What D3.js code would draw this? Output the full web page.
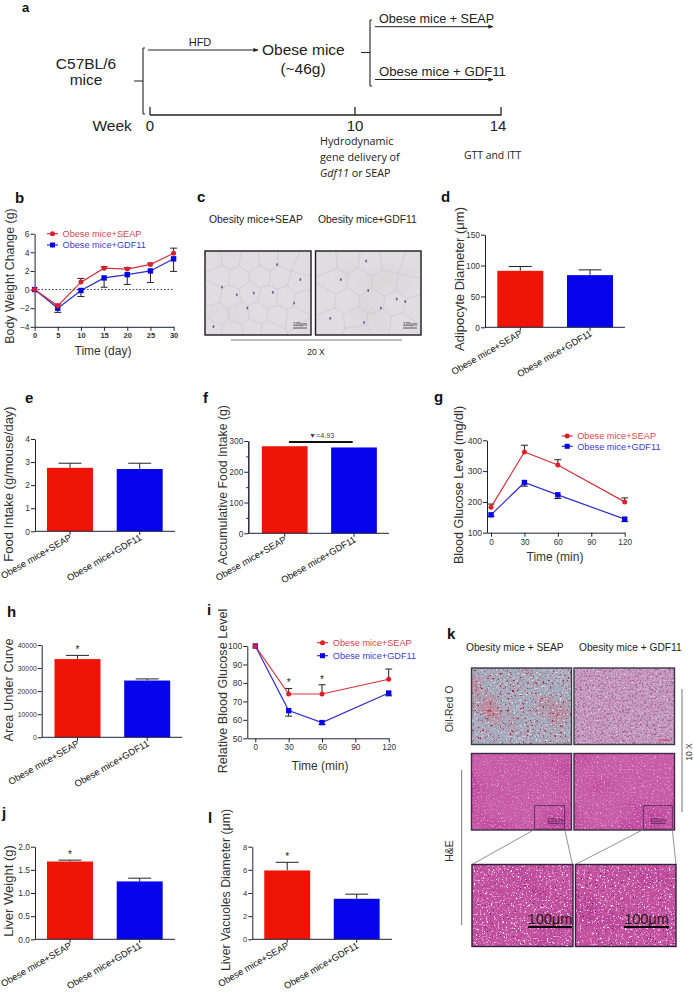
<!DOCTYPE html>
<html>
<head>
<meta charset="utf-8">
<script src="https://cdn.jsdelivr.net/npm/d3@7"></script>
<style>
  html, body { margin: 0; background: #fff; }
  svg { display: block; }
  text { font-family: "Liberation Sans", Arial, sans-serif; }
</style>
</head>
<body>
<div id="chart"></div>
<script>
// Chart values
const groups = ["Obese mice+SEAP", "Obese mice+GDF11"];

const weightDays = [0, 5, 10, 15, 20, 25, 30];
const weightSeap = [0, -1.75, 0.8, 2.3, 2.2, 2.7, 3.9];
const weightSeapErr = [0, 0.2, 0.4, 0.15, 0.15, 0.15, 0.55];
const weightGdf = [0, -2, -0.1, 1.25, 1.6, 2, 3.3];
const weightGdfErr = [0, 0.45, 0.65, 1, 1.05, 1.25, 1.35];

const adipocyte = [91.5, 84.5];
const adipocyteErr = [7, 8.5];
const foodIntake = [2.75, 2.7];
const foodIntakeErr = [0.2, 0.25];
const accumIntake = [283, 279];
const auc = [33900, 24600];
const aucErr = [1600, 700];
const liverWeight = [1.68, 1.25];
const liverWeightErr = [0.03, 0.07];
const vacuoles = [5.95, 3.5];
const vacuolesErr = [0.7, 0.4];

const gttTimes = [0, 30, 60, 120];
const gttSeap = [183, 362, 320, 200];
const gttSeapErr = [10, 22, 17, 13];
const gttGdf = [158, 263, 223, 144];
const gttGdfErr = [5, 12, 12, 8];

const ittSeap = [100, 74, 74, 82];
const ittSeapErr = [0, 3, 5, 5.5];
const ittGdf = [100, 65, 58.5, 74.5];
const ittGdfErr = [0, 3, 1, 1.5];

// Adipocyte centres in the two micrographs, as fractions of each photo
const fatCellsLeft = [[.07,.1],[.24,.08],[.42,.12],[.6,.1],[.78,.08],[.93,.16],[.14,.3],[.32,.32],[.52,.3],[.7,.32],[.88,.38],[.06,.5],[.24,.55],[.42,.5],[.6,.55],[.76,.55],[.93,.6],[.12,.76],[.32,.75],[.5,.74],[.68,.78],[.86,.8],[.06,.93],[.26,.94],[.44,.93],[.62,.95],[.94,.95]];
const fatCellsRight = [[.1,.12],[.3,.1],[.52,.14],[.72,.1],[.92,.18],[.18,.36],[.42,.36],[.66,.38],[.88,.42],[.08,.58],[.3,.6],[.54,.6],[.76,.62],[.94,.68],[.16,.84],[.38,.82],[.6,.84],[.82,.88],[.4,.98]];
const nucleiLeft = [[.16,.43],[.46,.5],[.64,.49],[.68,.16],[.9,.34],[.3,.52],[.08,.9],[.4,.68],[.84,.62]];
const nucleiRight = [[.48,.12],[.24,.34],[.5,.47],[.77,.57],[.85,.6],[.14,.8],[.46,.85],[.62,.68]];

const width = 694;
const height = 992;
const red = "#ee1508";
const blue = "#0504ea";
const lineRed = "#d8303c";
const lineBlue = "#2c2cc8";
const ink = "#222";

const svg = d3.select("#chart").append("svg")
  .attr("width", width)
  .attr("height", height)
  .attr("viewBox", `0 0 ${width} ${height}`);
const defs = svg.append("defs");

function label(txt, x, y, size, opts = {}) {
  const t = svg.append("text")
    .attr("x", x).attr("y", y)
    .attr("font-size", size)
    .attr("fill", opts.fill || ink)
    .attr("font-weight", opts.weight || null)
    .attr("text-anchor", opts.anchor || "start")
    .text(txt);
  if (opts.family) t.style("font-family", opts.family);
  if (opts.rotate != null) t.attr("transform", `rotate(${opts.rotate} ${x} ${y})`);
  return t;
}

function line(x1, y1, x2, y2, color = ink, w = 1) {
  return svg.append("line")
    .attr("x1", x1).attr("y1", y1).attr("x2", x2).attr("y2", y2)
    .attr("stroke", color).attr("stroke-width", w);
}

const yLabel = (txt, x, y, size = 12.6) => label(txt, x, y, size, { rotate: -90, anchor: "middle", fill: "#333" });

// Axis styling shared by every plot
function styleAxis(g, size = 8.4, weight = null) {
  g.selectAll("path,line").attr("stroke", "#1c2236").attr("stroke-width", 1);
  g.selectAll("text")
    .attr("font-size", size)
    .attr("font-weight", weight)
    .attr("fill", "#333")
    .style("font-family", '"Liberation Sans", Arial, sans-serif');
  return g;
}

// ---- bar panels
function barPanel({ values, errors, yMax, yTicks, yFormat, x0, x1, yTop, yBottom, bars, minor, stars, tickSize = 8.4 }) {
  const y = d3.scaleLinear().domain([0, yMax]).range([yBottom, yTop]);
  const barW = (bars[1] - bars[0]) * 0.66;

  styleAxis(svg.append("g")
    .attr("transform", `translate(${x0},0)`)
    .call(d3.axisLeft(y).tickValues(yTicks).tickFormat(yFormat || d3.format("d")).tickSize(4).tickSizeOuter(0).tickPadding(1)), tickSize);
  if (minor) {
    styleAxis(svg.append("g")
      .attr("transform", `translate(${x0},0)`)
      .call(d3.axisLeft(y).tickValues(minor).tickFormat("").tickSize(2).tickSizeOuter(0)));
  }

  const xAxis = d3.scaleOrdinal().domain(groups).range(bars);
  values.forEach((v, i) => {
    const cx = bars[i];
    if (errors) {
      const top = y(v + errors[i]);
      line(cx, y(v), cx, top, ink, 1);
      line(cx - 11.5, top, cx + 11.5, top, ink, 1);
    }
    svg.append("rect")
      .attr("x", cx - barW / 2).attr("width", barW)
      .attr("y", y(v)).attr("height", yBottom - y(v))
      .attr("fill", i ? blue : red);
    if (stars && stars[i]) {
      label("*", cx, y(v + errors[i]) - 2, 10, { anchor: "middle" });
    }
  });
  // x axis drawn last so it sits on top of the bars
  line(x0, yBottom, x1, yBottom, "#1c2236", 1);
  groups.forEach((g, i) => {
    const cx = xAxis(g);
    line(cx, yBottom, cx, yBottom + 3.5, "#1c2236", 1);
    label(g, cx + 2.5, yBottom + 8, 9.3, { anchor: "end", rotate: -30, fill: "#111" });
  });
}

// ---- line panels
function linePanel({ xVals, seap, seapErr, gdf, gdfErr, xDomain, xRange, yDomain, yRange, xTicks, yTicks, errDirGdf, zeroLine, legend, errColor = "#222", stars, sizes = [8.6, 8.2], xWeight = null }) {
  const x = d3.scaleLinear().domain(xDomain).range(xRange);
  const y = d3.scaleLinear().domain(yDomain).range(yRange);
  const path = d3.line().x((d, i) => x(xVals[i])).y(d => y(d));

  styleAxis(svg.append("g")
    .attr("transform", `translate(${xRange[0]},0)`)
    .call(d3.axisLeft(y).tickValues(yTicks).tickSize(4).tickSizeOuter(0).tickPadding(1)), sizes[0]);
  styleAxis(svg.append("g")
    .attr("transform", `translate(0,${yRange[0]})`)
    .call(d3.axisBottom(x).tickValues(xTicks).tickSize(4).tickSizeOuter(0).tickPadding(2)), sizes[1], xWeight);

  if (zeroLine) {
    svg.append("line")
      .attr("x1", x(xDomain[0])).attr("x2", x(xDomain[1]))
      .attr("y1", y(0)).attr("y2", y(0))
      .attr("stroke", "#333").attr("stroke-dasharray", "1.5 2");
  }

  const errorBars = (vals, errs, dir) => vals.forEach((v, i) => {
    if (!errs[i]) return;
    const end = y(v + dir * errs[i]);
    line(x(xVals[i]), y(v), x(xVals[i]), end, errColor, 1);
    line(x(xVals[i]) - 3.5, end, x(xVals[i]) + 3.5, end, errColor, 1);
  });
  errorBars(gdf, gdfErr, errDirGdf);
  errorBars(seap, seapErr, 1);

  svg.append("path").attr("d", path(gdf)).attr("fill", "none").attr("stroke", lineBlue).attr("stroke-width", 1.2);
  svg.append("path").attr("d", path(seap)).attr("fill", "none").attr("stroke", lineRed).attr("stroke-width", 1.2);

  svg.append("g").selectAll("rect").data(gdf).join("rect")
    .attr("x", (d, i) => x(xVals[i]) - 2.7).attr("y", d => y(d) - 2.7)
    .attr("width", 5.4).attr("height", 5.4).attr("fill", blue);
  svg.append("g").selectAll("circle").data(seap).join("circle")
    .attr("cx", (d, i) => x(xVals[i])).attr("cy", d => y(d)).attr("r", 2.5).attr("fill", "#e01e28");

  if (stars) {
    stars.forEach(i => label("*", x(xVals[i]), y(seap[i] + seapErr[i]) - 2, 10, { anchor: "middle" }));
  }

  // legend
  groups.forEach((g, i) => {
    const ly = legend.y[i];
    line(legend.x, ly, legend.x + 11, ly, i ? lineBlue : lineRed, 1.2);
    if (i) {
      svg.append("rect").attr("x", legend.x + 3).attr("y", ly - 2.5).attr("width", 5).attr("height", 5).attr("fill", blue);
    } else {
      svg.append("circle").attr("cx", legend.x + 5.5).attr("cy", ly).attr("r", 2.5).attr("fill", "#e01e28");
    }
    label(g, legend.x + legend.gap, ly + 3.3, 9.2, { fill: i ? "#3d3dcc" : "#d84450" });
  });
}

// ---- micrograph textures: SVG noise filters, no drawn data
function tissueFilter(id, base, layers) {
  const f = defs.append("filter").attr("id", id)
    .attr("x", 0).attr("y", 0).attr("width", "100%").attr("height", "100%")
    .attr("color-interpolation-filters", "sRGB");
  f.append("feFlood").attr("flood-color", base).attr("result", "base");
  let last = "base";
  layers.forEach((l, i) => {
    const c = d3.rgb(l.color);
    f.append("feTurbulence").attr("type", "fractalNoise")
      .attr("baseFrequency", l.freq).attr("numOctaves", l.octaves || 2)
      .attr("seed", l.seed).attr("result", `n${i}`);
    // flat colour, alpha taken from the noise above a threshold
    f.append("feColorMatrix").attr("in", `n${i}`).attr("type", "matrix")
      .attr("values", `0 0 0 0 ${c.r / 255} 0 0 0 0 ${c.g / 255} 0 0 0 0 ${c.b / 255} ${l.k} 0 0 0 ${-l.k * l.thr}`)
      .attr("result", `c${i}`);
    f.append("feComposite").attr("in", `c${i}`).attr("in2", last).attr("operator", "over").attr("result", `m${i}`);
    last = `m${i}`;
  });
}

tissueFilter("oilSeap", "#a9adbd", [
  { freq: 0.03, seed: 3, color: "#c08a9c", k: 4, thr: 0.5 },
  { freq: 0.5, seed: 5, color: "#dcdde3", k: 7, thr: 0.6 },
  { freq: 0.6, seed: 7, color: "#7f8aa5", k: 7, thr: 0.58 },
  { freq: 0.4, seed: 9, color: "#c4203c", k: 12, thr: 0.66 },
]);
tissueFilter("oilGdf", "#c79ac2", [
  { freq: 0.45, seed: 11, color: "#b2608f", k: 6, thr: 0.54 },
  { freq: 0.55, seed: 13, color: "#dfc8dc", k: 6, thr: 0.58 },
  { freq: 0.6, seed: 15, color: "#8a80b8", k: 6, thr: 0.6 },
]);
tissueFilter("heWide", "#c65aa6", [
  { freq: 0.02, seed: 21, color: "#bd3f9a", k: 3, thr: 0.5 },
  { freq: 0.65, seed: 23, color: "#d988c2", k: 5, thr: 0.54 },
  { freq: 0.75, seed: 25, color: "#f2d4ea", k: 10, thr: 0.74 },
]);
tissueFilter("heClose", "#c3509f", [
  { freq: 0.03, seed: 31, color: "#b94096", k: 2.5, thr: 0.52 },
  { freq: 0.5, seed: 33, color: "#de96cf", k: 6, thr: 0.56 },
  { freq: 0.55, seed: 35, color: "#ffffff", k: 12, thr: 0.67 },
  { freq: 0.6, seed: 37, color: "#53205f", k: 12, thr: 0.71 },
]);
tissueFilter("fat", "#e0dde0", [
  { freq: 0.02, seed: 41, color: "#dad7d9", k: 3, thr: 0.52 },
]);

function photo(x, y, w, h, filter) {
  svg.append("rect").attr("x", x).attr("y", y).attr("width", w).attr("height", h).attr("filter", `url(#${filter})`);
}
function frame(x, y, w, h, color = "#1d1a20", sw = 1.4) {
  svg.append("rect").attr("x", x).attr("y", y).attr("width", w).attr("height", h)
    .attr("fill", "none").attr("stroke", color).attr("stroke-width", sw);
}

function fatPhoto(x, y, w, h, cells, nuclei) {
  photo(x, y, w, h, "fat");
  const px = d3.scaleLinear().domain([0, 1]).range([x, x + w]);
  const py = d3.scaleLinear().domain([0, 1]).range([y, y + h]);
  const pts = cells.map(([a, b]) => [px(a), py(b)]);
  const vor = d3.Delaunay.from(pts).voronoi([x, y, x + w, y + h]);
  svg.append("path").attr("d", vor.render()).attr("fill", "none").attr("stroke", "#c8c0cf").attr("stroke-width", 0.6);
  svg.append("g").selectAll("ellipse").data(nuclei).join("ellipse")
    .attr("cx", d => px(d[0])).attr("cy", d => py(d[1]))
    .attr("rx", 0.9).attr("ry", 1.5).attr("fill", "#7a4f9c");
  frame(x, y, w, h);
  // scale bar
  const bx = x + w - 18;
  line(bx, y + h - 7, bx + 14, y + h - 7, "#333", 0.8);
  label("100μm", bx + 7, y + h - 9.5, 4.6, { anchor: "middle" });
}

// ---- a: study timeline
label("a", 22, 12, 13, { weight: 700, fill: "#111" });
label("C57BL/6", 86, 69, 15.5, { anchor: "middle" });
label("mice", 86, 85, 15.5, { anchor: "middle" });
line(134, 81, 143, 81);
line(143, 48, 143, 114, ink, 1.1);
line(143, 48, 145, 48);
line(143, 114, 145, 114);

defs.append("marker").attr("id", "arrow").attr("viewBox", "0 0 6 6").attr("refX", 5.5).attr("refY", 3)
  .attr("markerWidth", 5).attr("markerHeight", 5).attr("markerUnits", "userSpaceOnUse").attr("orient", "auto")
  .append("path").attr("d", "M0,0.5L6,3L0,5.5Z").attr("fill", ink);

line(148, 50, 258, 50).attr("marker-end", "url(#arrow)");
label("HFD", 200, 46, 11, { anchor: "middle" });
label("Obese mice", 262, 55, 15.5);
label("(~46g)", 303, 74, 15.5, { anchor: "middle" });
line(361, 52.5, 370, 52.5);
line(370, 20, 370, 86, ink, 1.1);
line(370, 20, 372, 20);
line(370, 86, 372, 86);
line(375, 26.7, 493, 26.7).attr("marker-end", "url(#arrow)");
line(375, 79.5, 493, 79.5).attr("marker-end", "url(#arrow)");
label("Obese mice + SEAP", 379, 22.7, 12.6);
label("Obese mice + GDF11", 379, 76, 13.2);

line(150, 115, 501.5, 115, ink, 1.5);
[150, 355, 501].forEach(x => line(x, 107, x, 115, ink, 1.3));
label("Week", 92.5, 130.5, 15.5);
label("0", 150, 131, 15, { anchor: "middle" });
label("10", 355, 131, 15, { anchor: "middle" });
label("14", 498, 131, 15, { anchor: "middle" });
const calibri = '"Open Sans", sans-serif';
label("Hydrodynamic", 320, 145, 10.8, { family: calibri });
label("gene delivery of", 320, 161, 10.8, { family: calibri });
const geneLine = label("", 320, 177, 10.8, { family: calibri });
geneLine.append("tspan").attr("font-style", "italic").text("Gdf11");
geneLine.append("tspan").text(" or SEAP");
label("GTT and  ITT", 464, 159, 10.4, { family: calibri });

// ---- b: body weight
label("b", 15, 203, 15, { weight: 700, fill: "#111" });
linePanel({
  xVals: weightDays, seap: weightSeap, seapErr: weightSeapErr, gdf: weightGdf, gdfErr: weightGdfErr,
  xDomain: [0, 30], xRange: [34.6, 173.6], yDomain: [-4, 6], yRange: [326.8, 233.7],
  xTicks: weightDays, yTicks: [-4, -2, 0, 2, 4, 6], errDirGdf: -1, zeroLine: true,
  legend: { x: 47, y: [233.7, 245], gap: 15.5 }, sizes: [8.6, 7.6], xWeight: 700,
});
yLabel("Body Weight Change (g)", 14, 276, 12.4);
label("Time (day)", 103, 355, 12, { anchor: "middle", fill: "#333" });

// ---- c: adipose micrographs
label("c", 197, 202, 15, { weight: 700, fill: "#111" });
label("Obesity mice+SEAP", 209, 223, 10.4);
label("Obesity mice+GDF11", 318, 223, 10.4);
fatPhoto(205, 251, 106, 84, fatCellsLeft, nucleiLeft);
fatPhoto(315.5, 251, 105.5, 84, fatCellsRight, nucleiRight);
line(231, 340, 402, 340, "#777", 1);
label("20 X", 316, 355, 8.5, { anchor: "middle" });

// ---- d
label("d", 441, 202, 15, { weight: 700, fill: "#111" });
barPanel({ values: adipocyte, errors: adipocyteErr, yMax: 150, yTicks: [0, 50, 100, 150],
  x0: 485, x1: 625, yTop: 234.7, yBottom: 327.3, bars: [520.3, 590] });
yLabel("Adipocyte Diameter (μm)", 464, 279, 13);

// ---- e
label("e", 25, 403, 15, { weight: 700, fill: "#111" });
barPanel({ values: foodIntake, errors: foodIntakeErr, yMax: 4, yTicks: [0, 1, 2, 3, 4],
  x0: 35, x1: 175, yTop: 439, yBottom: 531.3, bars: [70, 139.7] });
yLabel("Food Intake (g/mouse/day)", 13, 484, 13);

// ---- f
label("f", 203, 403, 15, { weight: 700, fill: "#111" });
barPanel({ values: accumIntake, yMax: 300, yTicks: [0, 100, 200, 300], minor: [50, 150, 250],
  x0: 248.3, x1: 389, yTop: 441, yBottom: 533.3, bars: [284.7, 354] });
yLabel("Accumulative Food Intake (g)", 227, 485, 12.3);
line(289, 442, 352.7, 442, "#111", 1.8);
label("▼=4.93", 309, 438, 7.2, { fill: "#444" });

// ---- g: glucose tolerance
label("g", 434, 402, 15, { weight: 700, fill: "#111" });
linePanel({
  xVals: gttTimes, seap: gttSeap, seapErr: gttSeapErr, gdf: gttGdf, gdfErr: gttGdfErr,
  xDomain: [-3.6, 120], xRange: [487, 624.7], yDomain: [100, 400], yRange: [532.7, 440.3],
  xTicks: [0, 30, 60, 90, 120], yTicks: [100, 200, 300, 400], errDirGdf: -1,
  legend: { x: 561.7, y: [436, 446.3], gap: 15.5 },
});
yLabel("Blood Glucose Level (mg/dl)", 463, 485, 12.6);
label("Time (min)", 555, 561, 12, { anchor: "middle", fill: "#333" });

// ---- h
label("h", 7, 617, 15, { weight: 700, fill: "#111" });
barPanel({ values: auc, errors: aucErr, yMax: 40000, yTicks: [0, 10000, 20000, 30000, 40000],
  x0: 41.7, x1: 182, yTop: 645, yBottom: 737.3, bars: [77.5, 147.2], stars: [true, false], tickSize: 6.8 });
yLabel("Area Under Curve", 12.7, 690, 12.8);

// ---- i: insulin tolerance
label("i", 207, 615, 15, { weight: 700, fill: "#111" });
linePanel({
  xVals: gttTimes, seap: ittSeap, seapErr: ittSeapErr, gdf: ittGdf, gdfErr: ittGdfErr,
  xDomain: [-7.2, 120], xRange: [247.3, 388.7], yDomain: [50, 100], yRange: [738.3, 646],
  xTicks: [0, 30, 60, 90, 120], yTicks: [50, 60, 70, 80, 90, 100], errDirGdf: -1,
  legend: { x: 317, y: [642.7, 655.7], gap: 15.8 }, stars: [1, 2],
});
yLabel("Relative Blood Glucose Level", 227, 691, 12.6);
label("Time (min)", 320, 770, 12, { anchor: "middle", fill: "#333" });

// ---- j
label("j", 2, 818, 15, { weight: 700, fill: "#111" });
barPanel({ values: liverWeight, errors: liverWeightErr, yMax: 2, yTicks: [0, 0.5, 1, 1.5, 2], yFormat: d3.format(".1f"),
  x0: 35, x1: 175, yTop: 846.7, yBottom: 939.3, bars: [70, 139.7], stars: [true, false] });
yLabel("Liver Weight (g)", 12.7, 891, 13);

// ---- l
label("l", 208, 823, 15, { weight: 700, fill: "#111" });
barPanel({ values: vacuoles, errors: vacuolesErr, yMax: 8, yTicks: [0, 2, 4, 6, 8],
  x0: 252.3, x1: 392, yTop: 846.7, yBottom: 939.3, bars: [287.2, 356.7], stars: [true, false], tickSize: 7.6 });
yLabel("Liver Vacuoles Diameter (μm)", 230, 890, 12.3);

// ---- k: liver micrographs
label("k", 447, 639, 15, { weight: 700, fill: "#111" });
label("Obesity mice + SEAP", 466, 650.7, 10.2);
label("Obesity mice + GDF11", 579, 650.7, 10.2);
photo(471.5, 668, 100, 76.5, "oilSeap");
frame(471.5, 668, 100, 76.5, "#3a3a44");
photo(574, 668, 100.5, 76.5, "oilGdf");
frame(574, 668, 100.5, 76.5, "#3a3a44");
line(658, 740, 670, 740, "#c8323c", 0.8);
photo(471.5, 753.5, 100, 76.5, "heWide");
frame(471.5, 753.5, 100, 76.5, "#3d2a45");
photo(574, 753.5, 100.5, 76.5, "heWide");
frame(574, 753.5, 100.5, 76.5, "#3d2a45");
frame(534.5, 805.7, 30, 23.5, "#4a2a50", 0.8);
frame(643.3, 805.7, 29, 23.5, "#4a2a50", 0.8);
label("100μm", 555, 822, 5.2, { anchor: "middle", fill: "#3a2045" });
label("100μm", 658, 822, 5.2, { anchor: "middle", fill: "#3a2045" });
line(548, 823.5, 563, 823.5, "#3a2045", 0.6);
line(651, 823.5, 666, 823.5, "#3a2045", 0.6);

line(534.5, 829.5, 472, 864.5, "#777", 0.8);
line(564.7, 829.5, 572.5, 864.5, "#777", 0.8);
line(643.3, 829.5, 575.5, 864.5, "#777", 0.8);
line(672.3, 829.5, 676, 864.5, "#777", 0.8);

photo(472, 864.5, 101, 82, "heClose");
frame(472, 864.5, 101, 82, "#33203c");
photo(575.5, 864.5, 100.5, 82, "heClose");
frame(575.5, 864.5, 100.5, 82, "#33203c");
label("100μm", 550, 924, 14.5, { anchor: "middle", fill: "#1a1a1a" });
label("100μm", 646.5, 924, 14.5, { anchor: "middle", fill: "#1a1a1a" });
line(528, 927, 572, 927, "#000", 2);
line(624, 927, 669, 927, "#000", 2);

label("Oil-Red O", 453, 709, 10.5, { rotate: -90, anchor: "middle", fill: "#333" });
label("H&E", 453, 851, 10.5, { rotate: -90, anchor: "middle", fill: "#333" });
line(461.7, 770, 461.7, 925, "#777", 1);
line(682, 689, 682, 812, "#777", 1);
label("10 X", 692, 752, 8.5, { rotate: -90, anchor: "middle", fill: "#333" });
</script>
</body>
</html>
